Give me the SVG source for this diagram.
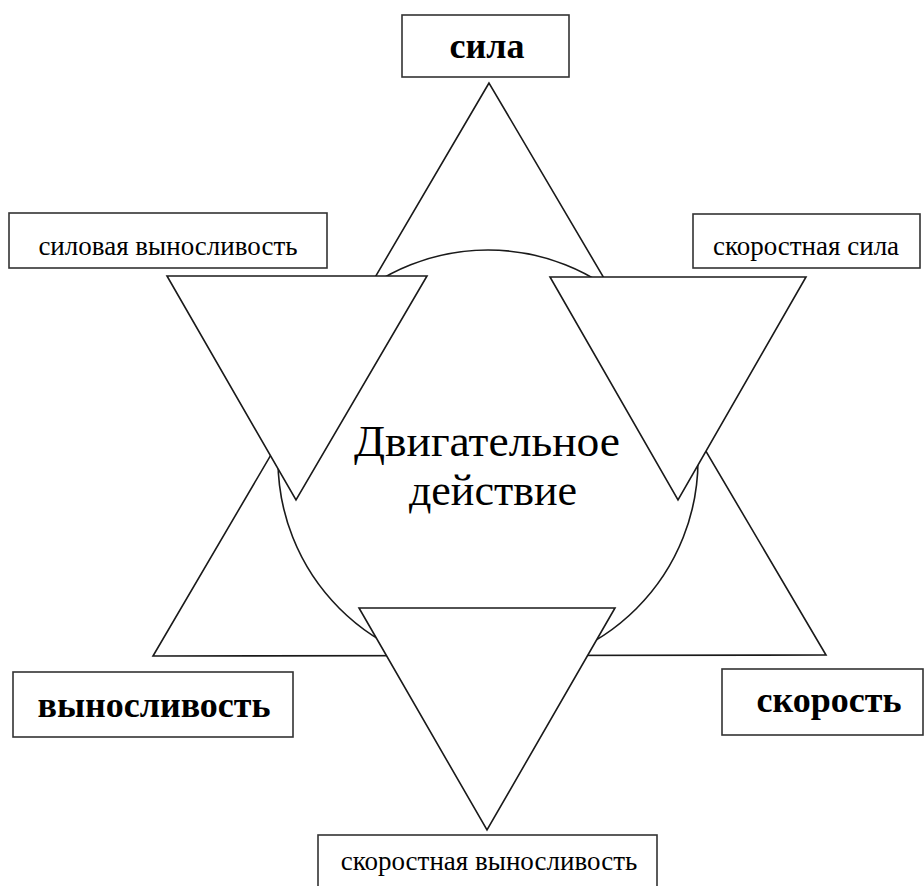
<svg xmlns="http://www.w3.org/2000/svg" width="924" height="886" viewBox="0 0 924 886">
  <style>
    .tri { fill: #ffffff; stroke: #1a1a1a; stroke-width: 1.6; stroke-linejoin: miter; }
    .circ { fill: #ffffff; stroke: #1a1a1a; stroke-width: 1.6; }
    .box { fill: #ffffff; stroke: #333333; stroke-width: 1.6; }
    .lbl { fill: #000000; text-anchor: middle; }
    .bold { font-weight: bold; font-size: 36px; }
    .reg { font-size: 27px; }
    .center { font-size: 44px; }
  </style>
  <rect width="924" height="886" fill="#ffffff"/>
  <g id="connectors">
    <polygon id="tri-up" class="tri" points="489,83 153,656 826,655"/>
    <circle id="circle" class="circ" cx="488" cy="460" r="210"/>
    <polygon id="tri-left" class="tri" points="167,276 427,276 296,500"/>
    <polygon id="tri-right" class="tri" points="550,277 806,277 678,500"/>
    <polygon id="tri-bottom" class="tri" points="359,608 615,608 487,830"/>
  </g>
  <g font-family="'Liberation Serif', 'DejaVu Serif', serif">
  <g id="node-center">
    <text class="lbl center" x="487" y="456" textLength="266" lengthAdjust="spacingAndGlyphs">Двигательное</text>
    <text class="lbl center" x="493" y="505" font-size="42">действие</text>
  </g>
  <g id="node-sila">
    <rect class="box" x="402" y="15" width="167" height="62"/>
    <text class="lbl bold" x="487" y="58">сила</text>
  </g>
  <g id="node-silovaya">
    <rect class="box" x="9" y="213" width="318" height="55"/>
    <text class="lbl reg" x="168" y="255">силовая выносливость</text>
  </g>
  <g id="node-skorostnaya-sila">
    <rect class="box" x="693" y="214" width="227" height="54"/>
    <text class="lbl reg" x="806" y="255">скоростная сила</text>
  </g>
  <g id="node-vynoslivost">
    <rect class="box" x="13" y="672" width="280" height="65"/>
    <text class="lbl bold" x="154" y="717">выносливость</text>
  </g>
  <g id="node-skorost">
    <rect class="box" x="722" y="669" width="201" height="66"/>
    <text class="lbl bold" x="829" y="712">скорость</text>
  </g>
  <g id="node-skorostnaya-vynoslivost">
    <rect class="box" x="318" y="835" width="339" height="60"/>
    <text class="lbl reg" x="489" y="870" font-size="25.5">скоростная выносливость</text>
  </g>
  </g>
</svg>
